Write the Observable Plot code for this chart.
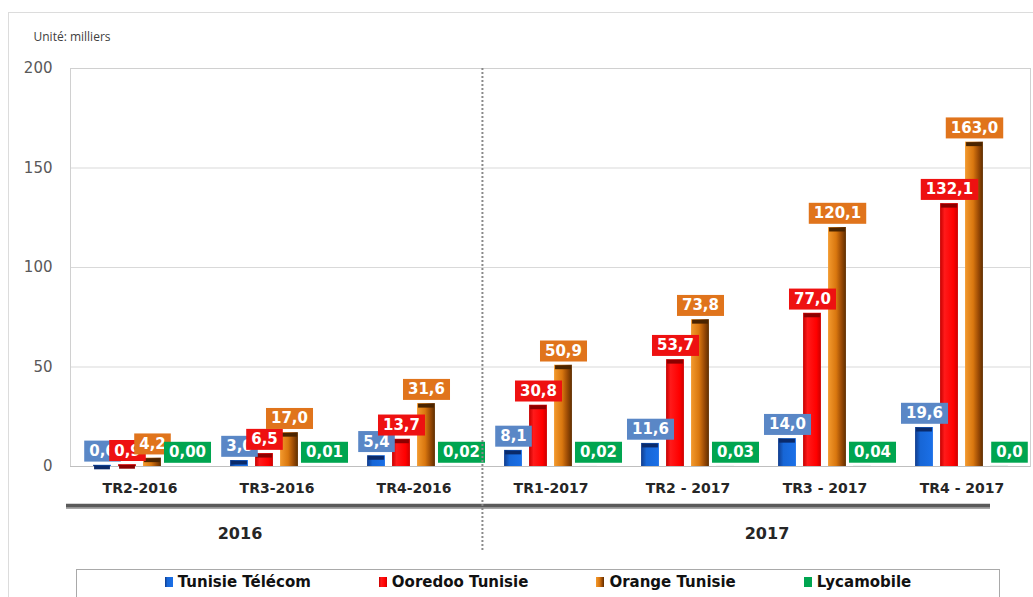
<!DOCTYPE html>
<html>
<head>
<meta charset="utf-8">
<script src="https://cdn.jsdelivr.net/npm/d3@7"></script>
<script src="https://cdn.jsdelivr.net/npm/@observablehq/plot@0.6"></script>
<style>
  html, body { margin: 0; padding: 0; background: #fff; }
  #wrap { position: relative; width: 1033px; height: 597px; overflow: hidden; background: #fff; }
  #outer { position: absolute; left: 8px; top: 12px; width: 1100px; height: 700px; border: 1px solid #dcdcdc; box-sizing: border-box; }
  #chart { position: absolute; left: 0; top: 0; }
  g[aria-label="x-axis tick label"] text { font: bold 14px "DejaVu Sans"; fill: #262626; }
  g[aria-label="y-axis tick label"] text { font: 15px "DejaVu Sans"; fill: #595959; }
  #legend { position: absolute; left: 76px; top: 569px; width: 924px; height: 40px; border: 1px solid #a9a9a9; box-sizing: border-box;
            display: flex; justify-content: center; align-items: flex-start; gap: 68px; padding-top: 3px; font: bold 15px/18px "DejaVu Sans"; color: #111; }
  .item { display: flex; align-items: center; gap: 5px; height: 18px; }
  .sw { width: 8px; height: 10px; display: inline-block; }
</style>
</head>
<body>
<div id="wrap">
  <div id="outer"></div>
  <div id="chart"></div>
  <div id="legend"></div>
</div>
<script>
// ---- data ----
const quarters = ["TR2-2016", "TR3-2016", "TR4-2016", "TR1-2017", "TR2 - 2017", "TR3 - 2017", "TR4 - 2017"];
const series = ["Tunisie Télécom", "Ooredoo Tunisie", "Orange Tunisie", "Lycamobile"];
const tunisieTelecom = [0.6, 3.0, 5.4, 8.1, 11.6, 14.0, 19.6];
const ooredooTunisie = [0.9, 6.5, 13.7, 30.8, 53.7, 77.0, 132.1];
const orangeTunisie = [4.2, 17.0, 31.6, 50.9, 73.8, 120.1, 163.0];
const lycamobile = [0.00, 0.01, 0.02, 0.02, 0.03, 0.04, 0.05];
const lycamobileLabels = ["0,00", "0,01", "0,02", "0,02", "0,03", "0,04", "0,0"];
const yTicks = [0, 50, 100, 150, 200];
const years = ["2016", "2017"];
const unitText = "Unité: milliers";

// ---- styles ----
const barColors = [
  [["0", "#113c8c"], ["0.3", "#1766d6"], ["1", "#1b70e8"]],
  [["0", "#c40000"], ["0.25", "#ff1a1a"], ["0.75", "#ff0000"], ["1", "#cc0000"]],
  [["0", "#f39a2e"], ["0.45", "#d9770f"], ["0.75", "#9a4a05"], ["1", "#5e2e00"]],
  [["0", "#00a550"], ["1", "#00a550"]]
];
const capColors = ["#0a2a6a", "#8b0000", "#4a2400", "#006030"];
const labelColors = ["#5a87c6", "#ee1111", "#e0741c", "#00a550"];

const fmt = v => v.toFixed(1).replace(".", ",");
const valuesBySeries = [tunisieTelecom, ooredooTunisie, orangeTunisie, lycamobile];
const rows = valuesBySeries.map((vals, i) => quarters.map((q, j) => ({
  quarter: q, series: series[i], value: vals[j],
  label: i === 3 ? lycamobileLabels[j] : fmt(vals[j])
})));

const W = 1033, H = 560, mL = 70, mR = 3, mT = 68, mB = 94;
const step = (W - mL - mR) / quarters.length;
const barW = 18, gap = 25;
const inset = (step - barW) / 2;

const marks = [
  Plot.ruleY([50, 100, 150], {stroke: "#d9d9d9"}),
  Plot.frame({stroke: "#d0d0d0"}),
  Plot.ruleY([0], {stroke: "#bfbfbf"}),
];
rows.forEach((data, i) => {
  const dx = (i - 1.5) * gap;
  marks.push(Plot.barY(data, {x: "quarter", y: "value", dx, insetLeft: inset, insetRight: inset, fill: `url(#grad${i})`}));
  if (i < 3) marks.push(Plot.tickY(data, {x: "quarter", y: "value", dx, dy: 2, insetLeft: inset + 1, insetRight: inset + 1, stroke: capColors[i], strokeWidth: 4}));
});
rows.forEach((data, i) => {
  const dx = (i - 1.5) * gap + (i === 3 ? 10 : 0);
  marks.push(Plot.text(data, {x: "quarter", y: "value", text: "label", dx, dy: -14, lineAnchor: "middle",
    fill: "white", fontWeight: "bold", fontSize: 15, fontFamily: "DejaVu Sans", className: `lab${i}`}));
});
marks.push(
  Plot.axisY(yTicks, {tickSize: 0, tickPadding: 18, label: null}),
  Plot.axisX({tickSize: 0, tickPadding: 17, label: null}),
  Plot.text([unitText], {frameAnchor: "top-left", dx: -37, dy: -31, textAnchor: "start", lineAnchor: "middle",
    fontSize: 12, fontFamily: "Open Sans", fill: "#404040"}),
  Plot.ruleY([0], {dy: 41.5, insetLeft: -4, insetRight: 40, stroke: "#a8a8a8", strokeWidth: 2}),
  Plot.ruleY([0], {dy: 39, insetLeft: -4, insetRight: 40, stroke: "#5a5a5a", strokeWidth: 3.5}),
  Plot.ruleX([quarters[3]], {dx: -step / 2, insetBottom: -84, stroke: "#8a8a8a", strokeWidth: 2, strokeDasharray: "2 2"}),
  Plot.text([years[0]], {x: () => quarters[1], text: d => d, frameAnchor: "bottom", dx: -37, dy: 67, lineAnchor: "middle",
    fontSize: 16, fontWeight: "bold", fontFamily: "DejaVu Sans", fill: "#262626"}),
  Plot.text([years[1]], {x: () => quarters[5], text: d => d, frameAnchor: "bottom", dx: -58, dy: 67, lineAnchor: "middle",
    fontSize: 16, fontWeight: "bold", fontFamily: "DejaVu Sans", fill: "#262626"})
);

const svg = Plot.plot({
  width: W, height: H,
  marginLeft: mL, marginRight: mR, marginTop: mT, marginBottom: mB,
  style: {fontFamily: "DejaVu Sans", background: "transparent", overflow: "visible"},
  x: {domain: quarters, paddingInner: 0, paddingOuter: 0, label: null},
  y: {domain: [0, 200], label: null},
  marks
});
document.getElementById("chart").appendChild(svg);

// gradients
const NS = "http://www.w3.org/2000/svg";
const defs = document.createElementNS(NS, "defs");
barColors.forEach((stops, i) => {
  const lg = document.createElementNS(NS, "linearGradient");
  lg.setAttribute("id", `grad${i}`);
  lg.setAttribute("x1", "0"); lg.setAttribute("x2", "1"); lg.setAttribute("y1", "0"); lg.setAttribute("y2", "0");
  stops.forEach(([o, c]) => {
    const s = document.createElementNS(NS, "stop");
    s.setAttribute("offset", o); s.setAttribute("stop-color", c);
    lg.appendChild(s);
  });
  defs.appendChild(lg);
});
svg.insertBefore(defs, svg.firstChild);

// label boxes
labelColors.forEach((c, i) => {
  svg.querySelectorAll(`g.lab${i} text`).forEach(t => {
    const b = t.getBBox();
    const r = document.createElementNS(NS, "rect");
    r.setAttribute("x", b.x - 5);
    r.setAttribute("y", b.y - 1.5);
    r.setAttribute("width", b.width + 10);
    r.setAttribute("height", b.height + 3);
    r.setAttribute("fill", c);
    if (t.getAttribute("transform")) r.setAttribute("transform", t.getAttribute("transform"));
    t.parentNode.insertBefore(r, t);
  });
});

// legend
const legend = document.getElementById("legend");
series.forEach((s, i) => {
  const item = document.createElement("div");
  item.className = "item";
  const sw = document.createElement("span");
  sw.className = "sw";
  sw.style.background = `linear-gradient(to right, ${barColors[i].map(([o, c]) => c + " " + (+o * 100) + "%").join(", ")})`;
  const tx = document.createElement("span");
  tx.textContent = s;
  item.appendChild(sw); item.appendChild(tx);
  legend.appendChild(item);
});
</script>
</body>
</html>
